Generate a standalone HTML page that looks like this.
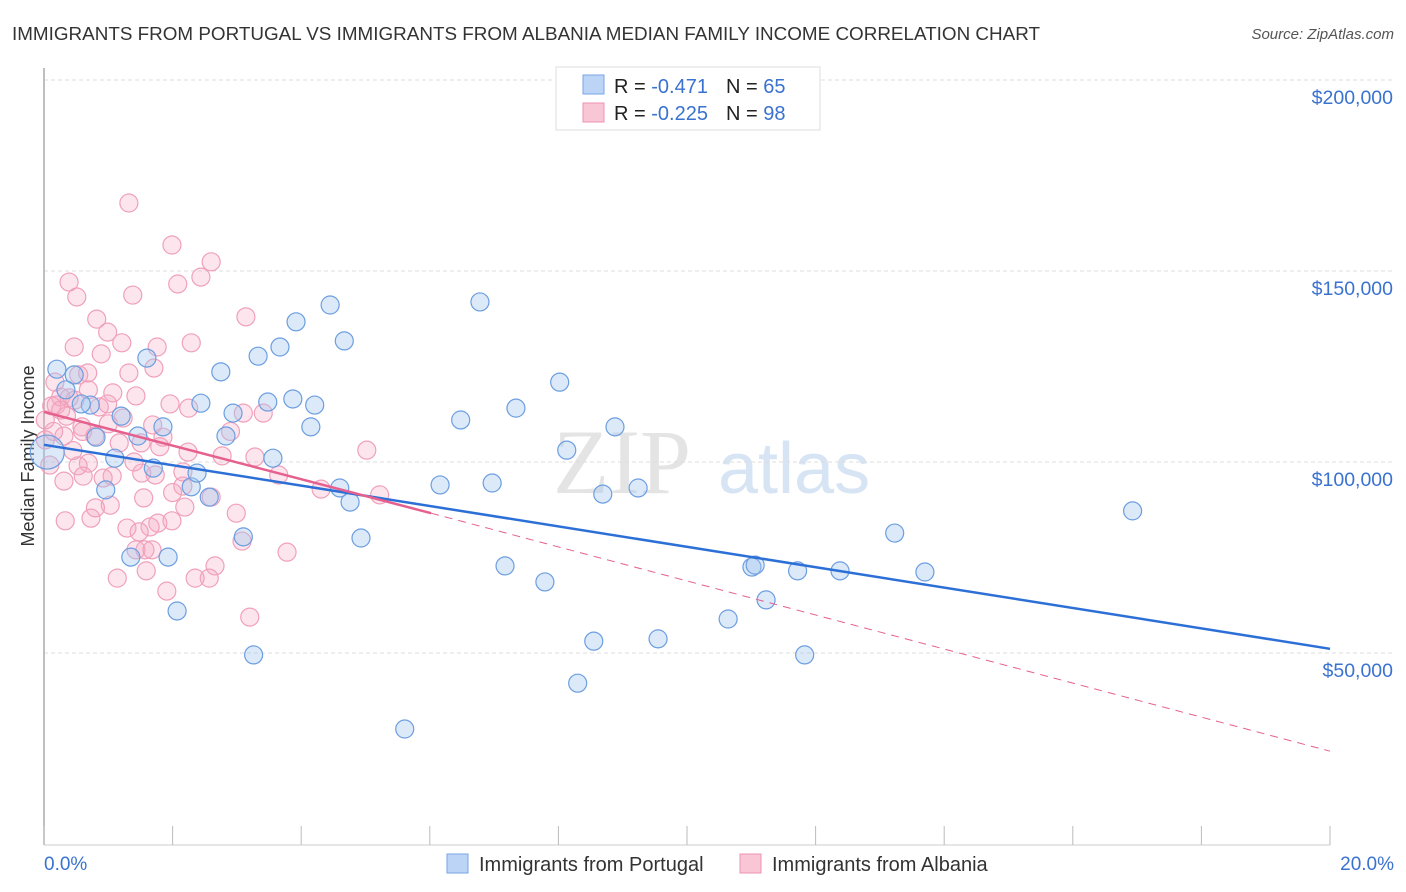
<!DOCTYPE html>
<html><head><meta charset="utf-8">
<style>
body{margin:0;background:#fff;font-family:"Liberation Sans",sans-serif;}
svg{display:block}
</style></head>
<body>
<svg id="chart" width="1406" height="892" xmlns="http://www.w3.org/2000/svg">
<text x="12" y="40" font-size="18.5" fill="#333" textLength="1028" lengthAdjust="spacingAndGlyphs">IMMIGRANTS FROM PORTUGAL VS IMMIGRANTS FROM ALBANIA MEDIAN FAMILY INCOME CORRELATION CHART</text>
<text x="1394" y="39" font-size="15" fill="#555" text-anchor="end" font-style="italic">Source: ZipAtlas.com</text>
<g>
<text x="553" y="493" font-size="92" fill="#e4e4e4" font-family="Liberation Serif, serif">ZIP</text>
<text x="718" y="493" font-size="72" fill="#d6e4f4">atlas</text>
</g>
<g id="grid"></g>
<line x1="44" y1="68" x2="44" y2="845" stroke="#aaa" stroke-width="1.5"/>
<line x1="44" y1="845" x2="1330" y2="845" stroke="#ccc" stroke-width="1"/>
<g id="xticks"></g>
<text transform="translate(34,456) rotate(-90)" text-anchor="middle" font-size="18" fill="#333">Median Family Income</text>
<text x="44" y="870" font-size="19" fill="#3a72d0">0.0%</text>
<text x="1394" y="870" font-size="19" fill="#3a72d0" text-anchor="end">20.0%</text>
<g id="points"></g>
<g id="trends"></g>
<g>
<rect x="556" y="67" width="264" height="63" fill="#fff" stroke="#ddd"/>
<rect x="583" y="75" width="21" height="19" fill="#bcd4f5" stroke="#7aa6e6"/>
<rect x="583" y="103" width="21" height="19" fill="#f9c6d6" stroke="#ec92b0"/>
<text x="614" y="93" font-size="20" fill="#222">R = <tspan fill="#3a72d0"> -0.471</tspan><tspan dx="18">N = </tspan><tspan fill="#3a72d0">65</tspan></text>
<text x="614" y="120" font-size="20" fill="#222">R = <tspan fill="#3a72d0">-0.225</tspan><tspan dx="18">N = </tspan><tspan fill="#3a72d0">98</tspan></text>
</g>
<g>
<rect x="447" y="854" width="21" height="19" fill="#bcd4f5" stroke="#7aa6e6"/>
<text x="479" y="871" font-size="20" fill="#333">Immigrants from Portugal</text>
<rect x="740" y="854" width="21" height="19" fill="#f9c6d6" stroke="#ec92b0"/>
<text x="772" y="871" font-size="20" fill="#333">Immigrants from Albania</text>
</g>
</svg>
<script>
const yTicks=[50,100,150,200];
const yTickLabels=["$50,000","$100,000","$150,000","$200,000"];
const xTicks=[0,2,4,6,8,10,12,14,16,18,20];
const blueX=[0.2,0.47,0.34,0.72,0.58,0.81,1.2,1.46,1.6,1.85,1.7,1.1,0.96,1.35,1.93,2.07,2.29,2.38,2.44,2.57,2.75,2.83,2.94,3.1,3.26,3.33,3.48,3.56,3.67,3.92,3.87,4.15,4.21,4.45,4.6,4.67,4.76,4.93,5.61,6.16,6.48,6.78,6.97,7.17,7.34,7.79,8.02,8.13,8.3,8.55,8.69,8.88,9.24,9.55,10.64,11.01,11.06,11.23,11.72,11.83,12.38,13.23,13.7,16.93,0.05];
const blueY=[124.3,122.8,118.9,114.9,115.2,106.5,112,106.8,127.2,109.2,98.4,101,92.7,75.1,75.1,61,93.5,97.1,115.4,90.8,123.6,106.8,112.8,80.4,49.5,127.7,115.7,101,130.1,136.7,116.5,109.2,114.9,141.1,93.2,131.7,89.5,80.1,30.1,94,111,141.9,94.5,72.8,114.1,68.6,120.9,103.1,42.1,53.1,91.6,109.2,93.2,53.7,58.9,72.5,73,63.9,71.5,49.5,71.5,81.4,71.2,87.2,102.6];
const pinkX=[1.32,1.99,2.6,2.44,2.08,0.39,0.51,1.38,3.14,0.82,0.99,1.21,2.29,0.47,1.76,0.89,1.71,1.32,0.54,0.68,0.17,0.69,1.07,1.43,0.26,0.48,0.39,0.99,1.96,2.25,0.12,0.86,3.41,3.1,1.23,1.69,0.59,0.31,0.79,1.85,1.51,1.17,5.02,2.24,2.77,3.28,0.69,0.53,1.52,2.16,3.65,0.61,0.31,1.06,1.73,0.92,2.16,4.31,5.22,2.6,1.55,1.03,2.19,0.73,0.33,2.99,1.99,1.77,1.65,1.29,3.08,1.57,1.43,3.78,1.68,1.59,2.66,1.14,2.57,2.35,1.91,3.2,1.48,0.09,0.02,0.19,0.26,0.02,0.6,1.0,1.4,0.45,2.0,0.15,1.8,2.9,0.8,0.35];
const pinkY=[167.8,156.8,152.4,148.4,146.6,147.1,143.2,143.7,138,137.4,134,131.2,131.2,130.1,130.1,128.3,124.6,123.3,122.8,123.3,120.9,118.9,118.1,117.3,117,116.2,116.8,115.2,115.2,114.1,114.7,114.4,112.8,112.8,111.5,109.7,109.2,106.8,106.8,106.5,105,105,103.1,102.6,101.6,101.3,99.7,99,97.1,97.4,96.6,96.3,95,96.3,96.6,95.8,93.7,92.9,91.4,90.8,90.6,88.7,88.2,85.3,84.6,86.6,84.6,84,83,82.7,79.3,77,77,76.4,77,71.5,72.8,69.6,69.6,69.6,66.2,59.4,81.7,99.2,111,114.9,113.6,105.8,108,110,100,103,92,108,104,108,88,112];
const blueTrend=[[0,104.5],[20,51.1]];
const pinkTrend=[[0,113.1],[6.02,86.6],[20,24.3]];
const NS="http://www.w3.org/2000/svg";
const xs=p=>44+p/20*1286;
const ys=v=>462-(v-100)*191/50;
function mk(t,a,parent){const e=document.createElementNS(NS,t);for(const k in a)e.setAttribute(k,a[k]);parent.appendChild(e);return e;}
const grid=document.getElementById('grid');
yTicks.forEach((v,i)=>{
 const l=mk('line',{x1:44,x2:1393,y1:ys(v),y2:ys(v),stroke:'#ddd','stroke-dasharray':'4,3'},grid);
 
 
 const t=mk('text',{x:1393,y:ys(v)+24,'text-anchor':'end','font-size':19.5,fill:'#3a72d0'},grid);
 t.textContent=yTickLabels[i];
 
 
});
const xt=document.getElementById('xticks');
xTicks.forEach(p=>{
 const l=mk('line',{x1:xs(p),x2:xs(p),y1:826,y2:845,stroke:'#bbb'},xt);
 
 
});
const pts=document.getElementById('points');
pinkX.forEach((p,i)=>{
 const c=mk('circle',{cx:xs(p),cy:ys(pinkY[i]),r:9,fill:'rgba(246,170,196,0.3)',stroke:'#f0a0bb','stroke-width':1.2},pts);
 
 
});
blueX.forEach((p,i)=>{
 const big=i===blueX.length-1;
 const c=mk('circle',{cx:xs(p),cy:ys(blueY[i]),r:big?17:9,fill:'rgba(160,196,240,0.38)',stroke:'#6c9ee0','stroke-width':1.2},pts);
 
 
});
const tr=document.getElementById('trends');
const bl=mk('line',{x1:xs(blueTrend[0][0]),y1:ys(blueTrend[0][1]),x2:xs(blueTrend[1][0]),y2:ys(blueTrend[1][1]),stroke:'#2c6fd6','stroke-width':2.5},tr);


const pl=mk('line',{x1:xs(pinkTrend[0][0]),y1:ys(pinkTrend[0][1]),x2:xs(pinkTrend[1][0]),y2:ys(pinkTrend[1][1]),stroke:'#e5608e','stroke-width':2.5},tr);


const pd=mk('line',{x1:xs(pinkTrend[1][0]),y1:ys(pinkTrend[1][1]),x2:xs(pinkTrend[2][0]),y2:ys(pinkTrend[2][1]),stroke:'#e5608e','stroke-width':1,'stroke-dasharray':'8,6'},tr);


</script>
</body></html>
